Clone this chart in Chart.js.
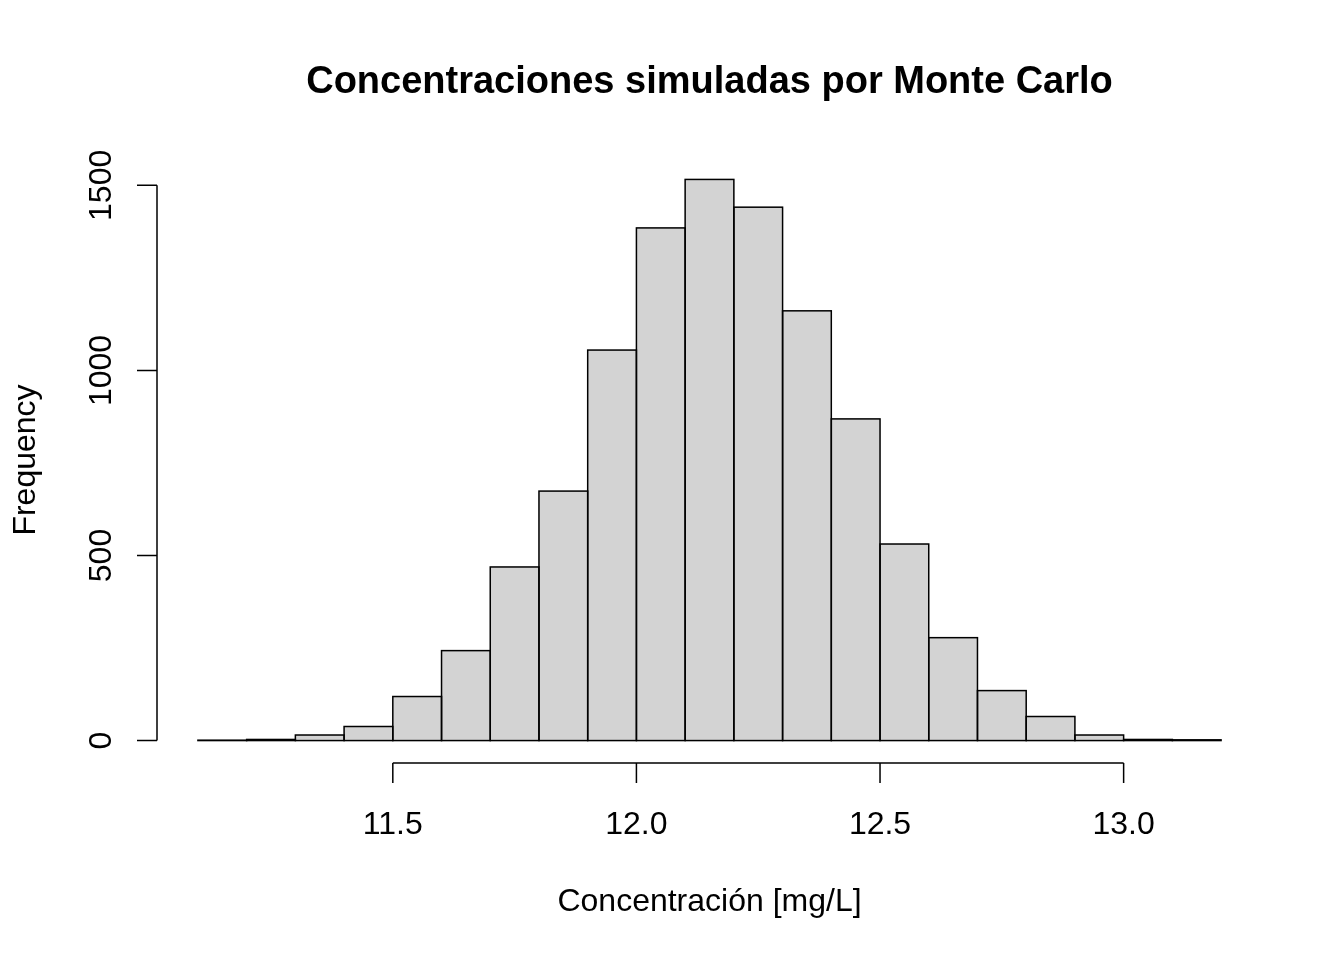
<!DOCTYPE html>
<html>
<head>
<meta charset="utf-8">
<script src="https://cdn.jsdelivr.net/npm/chart.js@4/dist/chart.umd.min.js"></script>
<style>
  html, body { margin: 0; padding: 0; background: #fff; }
  canvas { display: block; }
</style>
</head>
<body>
<canvas id="hist" width="1344" height="960"></canvas>
<script>
// bins of width 0.1 (midpoints) and counts
const binMids = [11.15, 11.25, 11.35, 11.45, 11.55, 11.65, 11.75, 11.85, 11.95, 12.05, 12.15,
                 12.25, 12.35, 12.45, 12.55, 12.65, 12.75, 12.85, 12.95, 13.05, 13.15];
const counts = [1, 3, 15, 38, 119, 243, 469, 674, 1055, 1385, 1516,
                1441, 1161, 869, 531, 278, 135, 65, 15, 3, 2];
const xTicks = [11.5, 12.0, 12.5, 13.0];
const yTicks = [0, 500, 1000, 1500];

const FONT = '"Liberation Sans", Arial, sans-serif';

// R-style axes, title and bar outlines
const baseR = {
  id: 'baseR',
  afterDatasetsDraw(chart) {
    const ctx = chart.ctx;
    const xs = chart.scales.x, ys = chart.scales.y;
    const area = chart.chartArea;
    ctx.save();
    ctx.strokeStyle = '#000';
    ctx.fillStyle = '#000';
    ctx.lineWidth = 1.5;

    // bar outlines (shared edges like R's rect)
    const meta = chart.getDatasetMeta(0);
    meta.data.forEach(bar => {
      const p = bar.getProps(['x', 'y', 'base', 'width'], true);
      ctx.strokeRect(p.x - p.width / 2, p.y, p.width, p.base - p.y);
    });

    // x axis
    const yb = area.bottom;
    ctx.beginPath();
    ctx.moveTo(xs.getPixelForValue(xTicks[0]), yb);
    ctx.lineTo(xs.getPixelForValue(xTicks[xTicks.length - 1]), yb);
    xTicks.forEach(t => {
      const px = xs.getPixelForValue(t);
      ctx.moveTo(px, yb);
      ctx.lineTo(px, yb + 20);
    });
    ctx.stroke();
    ctx.font = '32px ' + FONT;
    ctx.textAlign = 'center';
    ctx.textBaseline = 'alphabetic';
    xTicks.forEach(t => {
      ctx.fillText(t.toFixed(1), xs.getPixelForValue(t), 834);
    });

    // y axis
    const xl = area.left;
    ctx.beginPath();
    ctx.moveTo(xl, ys.getPixelForValue(yTicks[0]));
    ctx.lineTo(xl, ys.getPixelForValue(yTicks[yTicks.length - 1]));
    yTicks.forEach(t => {
      const py = ys.getPixelForValue(t);
      ctx.moveTo(xl, py);
      ctx.lineTo(xl - 20, py);
    });
    ctx.stroke();
    yTicks.forEach(t => {
      ctx.save();
      ctx.translate(111, ys.getPixelForValue(t));
      ctx.rotate(-Math.PI / 2);
      ctx.fillText(String(t), 0, 0);
      ctx.restore();
    });

    // axis titles
    const cx = (area.left + area.right) / 2;
    const cy = (area.top + area.bottom) / 2;
    ctx.fillText('Concentración [mg/L]', cx, 911);
    ctx.save();
    ctx.translate(35, cy);
    ctx.rotate(-Math.PI / 2);
    ctx.fillText('Frequency', 0, 0);
    ctx.restore();

    // main title
    ctx.font = 'bold 38px ' + FONT;
    ctx.fillText('Concentraciones simuladas por Monte Carlo', cx, 93);
    ctx.restore();
  }
};

new Chart(document.getElementById('hist'), {
  type: 'bar',
  data: {
    datasets: [{
      data: binMids.map((m, i) => ({ x: m, y: counts[i] })),
      backgroundColor: '#d3d3d3',
      borderWidth: 0,
      barPercentage: 1,
      categoryPercentage: 1
    }]
  },
  options: {
    responsive: false,
    animation: false,
    devicePixelRatio: 1,
    layout: { padding: { left: 157, right: 82, top: 157, bottom: 197 } },
    plugins: { legend: { display: false }, tooltip: { enabled: false } },
    scales: {
      x: { type: 'linear', min: 11.016, max: 13.284, display: false, offset: false },
      y: { min: -60.6, max: 1576.6, display: false }
    }
  },
  plugins: [baseR]
});
</script>
</body>
</html>
